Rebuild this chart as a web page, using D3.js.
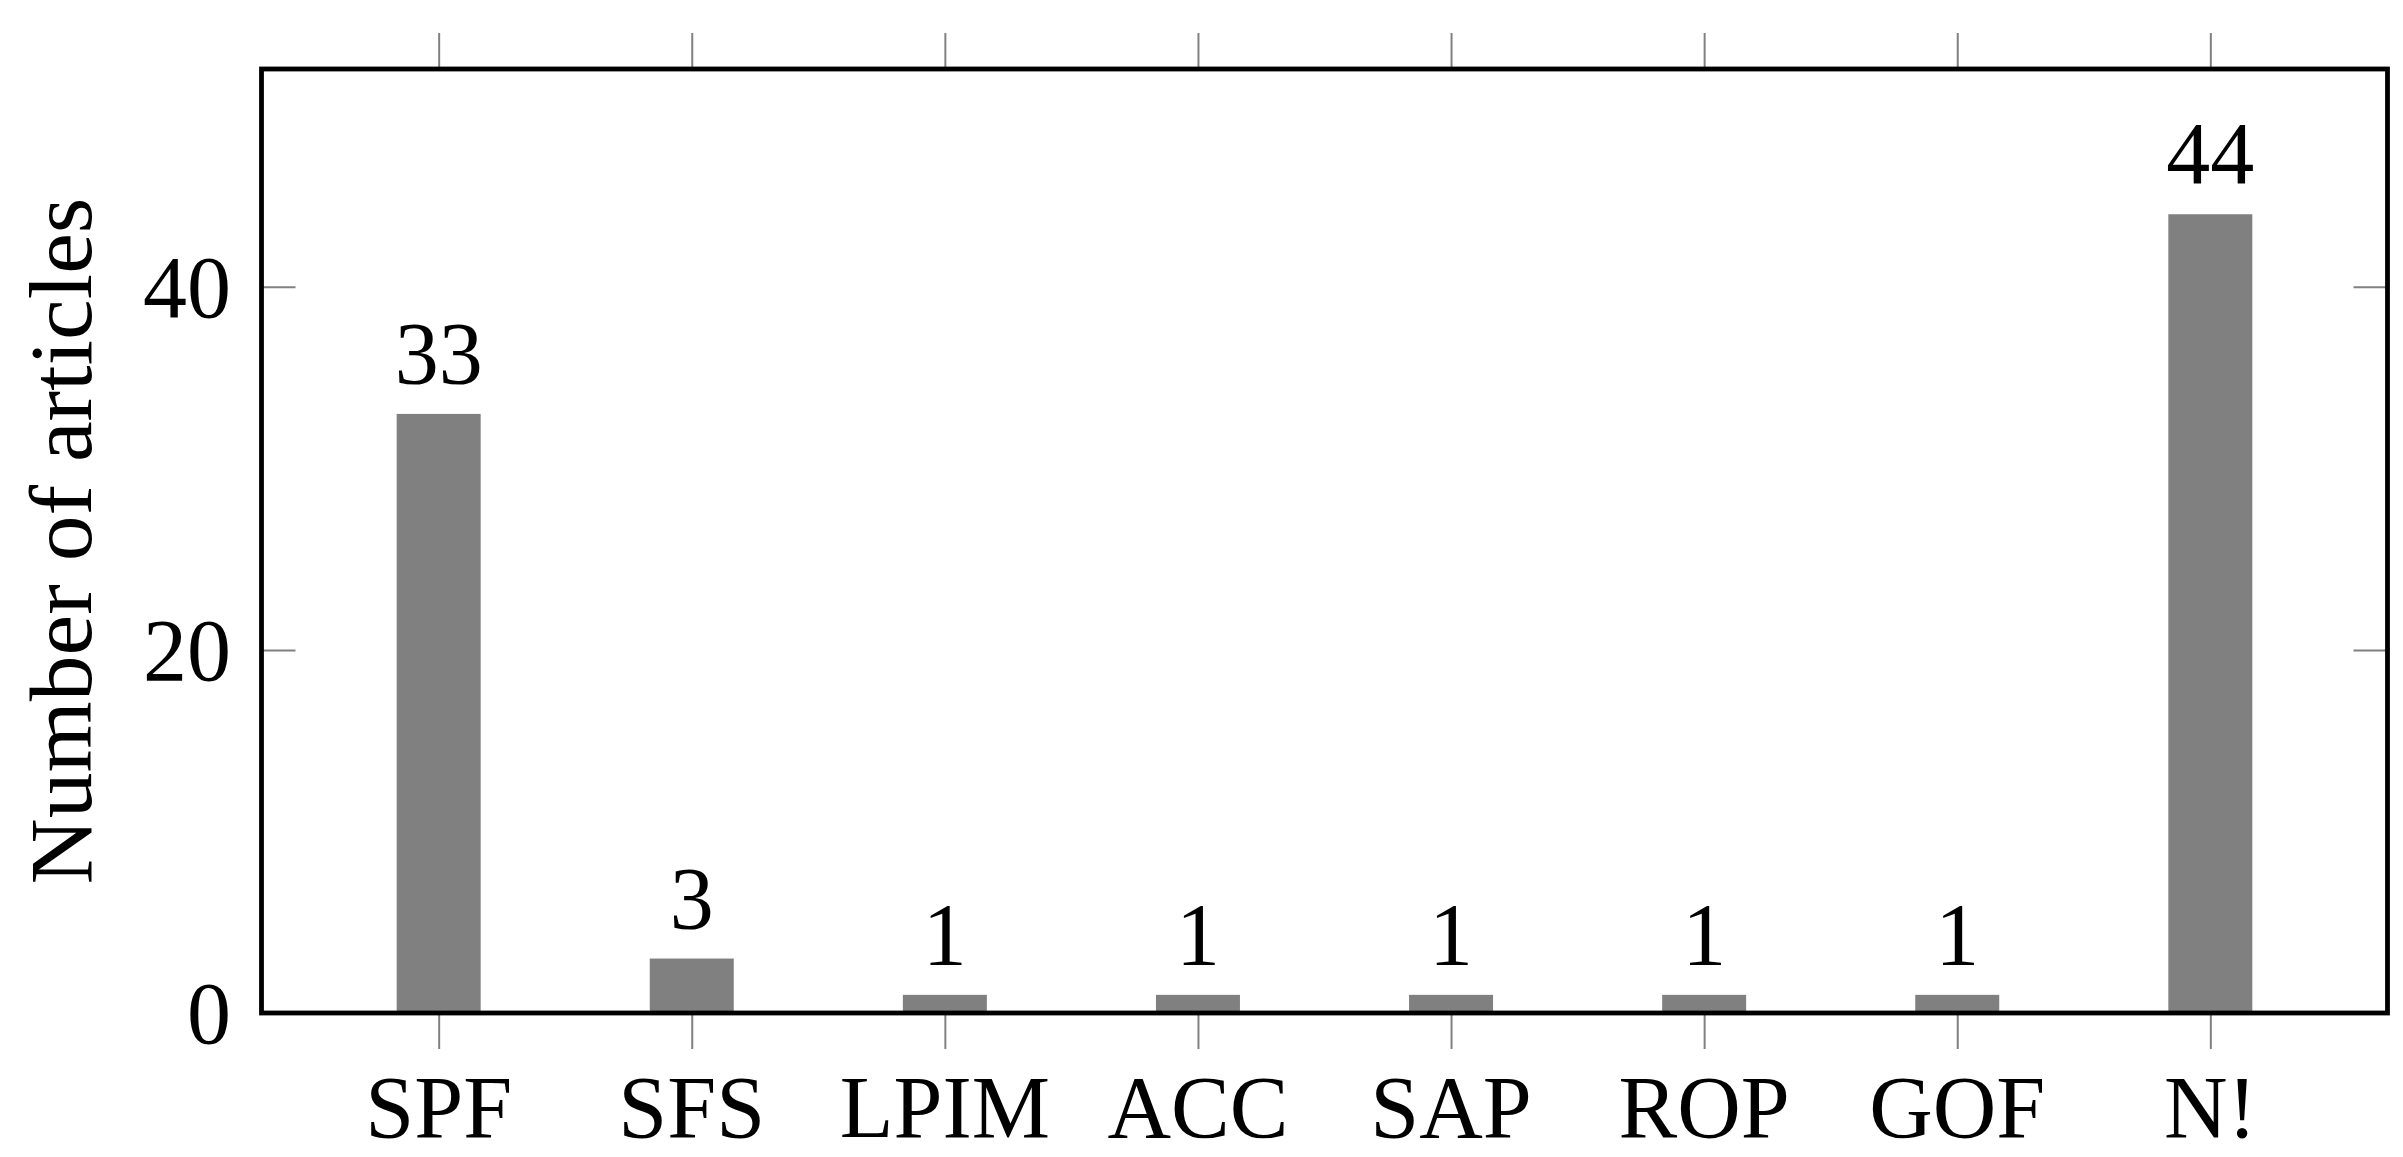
<!DOCTYPE html>
<html>
<head>
<meta charset="utf-8">
<script src="https://cdn.jsdelivr.net/npm/d3@7"></script>
<style>
  html, body { margin: 0; padding: 0; background: #fff; }
</style>
</head>
<body>
<svg id="chart" width="2403" height="1157"></svg>
<script>
const categories = ["SPF", "SFS", "LPIM", "ACC", "SAP", "ROP", "GOF", "N!"];
const counts = [33, 3, 1, 1, 1, 1, 1, 44];
const yTicks = [0, 20, 40];
const yLabel = "Number of articles";

(function () {
const plotL = 261.5, plotR = 2387.5, plotT = 69, plotB = 1013;
const fontSize = 88;
const serif = "'Liberation Serif', monospace";

const svg = d3.select("#chart");

const x = d3.scalePoint().domain(categories).range([plotL, plotR]).padding(0.70);
const y = d3.scaleLinear().domain([0, 52]).range([plotB, plotT]);
const barW = 84;

const rows = categories.map((c, i) => ({ c, v: counts[i] }));

// bars
svg.append("g").selectAll("rect")
  .data(rows)
  .join("rect")
  .attr("x", d => x(d.c) - barW / 2)
  .attr("y", d => y(d.v))
  .attr("width", barW)
  .attr("height", d => y(0) - y(d.v))
  .attr("fill", "#808080");

// value labels
svg.append("g").selectAll("text")
  .data(rows)
  .join("text")
  .attr("x", d => x(d.c))
  .attr("y", d => y(d.v) - 31)
  .attr("text-anchor", "middle")
  .style("font-family", serif)
  .attr("font-size", fontSize)
  .text(d => d.v);

// x axis bottom (ticks outward)
const gxb = svg.append("g").attr("transform", `translate(0,${plotB + 2})`)
  .call(d3.axisBottom(x).tickSize(34).tickFormat(""));
gxb.select(".domain").remove();
gxb.selectAll(".tick line").attr("stroke", "#808080").attr("stroke-width", 2);

// x tick labels
svg.append("g").selectAll("text")
  .data(categories)
  .join("text")
  .attr("x", d => x(d))
  .attr("y", 1137)
  .attr("text-anchor", "middle")
  .style("font-family", serif)
  .attr("font-size", fontSize)
  .text(d => d);

// x axis top (ticks outward)
const gxt = svg.append("g").attr("transform", `translate(0,${plotT - 2})`)
  .call(d3.axisTop(x).tickSize(34).tickFormat(""));
gxt.select(".domain").remove();
gxt.selectAll(".tick line").attr("stroke", "#808080").attr("stroke-width", 2);

// y axis left (ticks inward)
const gyl = svg.append("g").attr("transform", `translate(${plotL},0)`)
  .call(d3.axisRight(y).tickValues(yTicks).tickSize(34).tickFormat(""));
gyl.select(".domain").remove();
gyl.selectAll(".tick line").attr("stroke", "#808080").attr("stroke-width", 2);

// y axis right (ticks inward)
const gyr = svg.append("g").attr("transform", `translate(${plotR},0)`)
  .call(d3.axisLeft(y).tickValues(yTicks).tickSize(34).tickFormat(""));
gyr.select(".domain").remove();
gyr.selectAll(".tick line").attr("stroke", "#808080").attr("stroke-width", 2);

// y tick labels
svg.append("g").selectAll("text")
  .data(yTicks)
  .join("text")
  .attr("x", 231)
  .attr("y", d => y(d))
  .attr("dy", "0.34em")
  .attr("text-anchor", "end")
  .style("font-family", serif)
  .attr("font-size", fontSize)
  .text(d => d);

// frame
svg.append("rect")
  .attr("x", plotL).attr("y", plotT)
  .attr("width", plotR - plotL).attr("height", plotB - plotT)
  .attr("fill", "none").attr("stroke", "#000").attr("stroke-width", 4.8);

// y axis label
svg.append("text")
  .attr("transform", `translate(91,${(plotT + plotB) / 2}) rotate(-90)`)
  .attr("text-anchor", "middle")
  .style("font-family", serif)
  .attr("font-size", fontSize)
  .attr("textLength", 687)
  .attr("lengthAdjust", "spacingAndGlyphs")
  .text(yLabel);
})();
</script>
</body>
</html>
